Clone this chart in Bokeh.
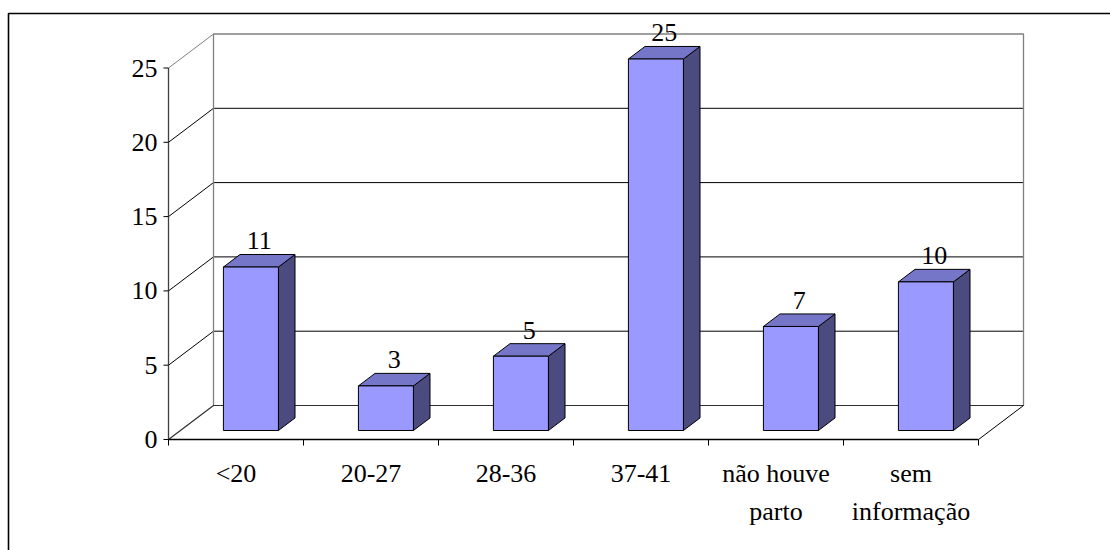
from bokeh.plotting import figure
from bokeh.models import Range1d
from bokeh.core.properties import value
from bokeh.embed import file_html
from bokeh.resources import INLINE

# Data
categories = ["<20", "20-27", "28-36", "37-41", "não houve\nparto", "sem\ninformação"]
counts = [11, 3, 5, 25, 7, 10]
y_ticks = [0, 5, 10, 15, 20, 25]
y_tick_labels = ["0", "5", "10", "15", "20", "25"]

# Canvas and scale setup (pixels per data unit)
W, H = 1110, 550
ORIGIN_X, ORIGIN_Y = 168, 439
PX_X = 135.0
PX_Y = 14.86

def px_x(d):
    return d / PX_X

def px_y(d):
    return d / PX_Y

DX = px_x(45)      # depth offset of the back wall, horizontal
DY = px_y(34)      # depth offset of the back wall, vertical
N = len(categories)
YMAX = y_ticks[-1]

FONT = value("Liberation Serif")
FS = "26px"

p = figure(width=W, height=H, output_backend="svg", toolbar_location=None,
           x_range=Range1d(-px_x(ORIGIN_X), px_x(W - ORIGIN_X)),
           y_range=Range1d(-px_y(H - ORIGIN_Y), px_y(ORIGIN_Y)),
           x_axis_location=None, y_axis_location=None, min_border=0)
p.outline_line_color = None
p.background_fill_color = "white"
p.border_fill_color = "white"
p.grid.visible = False

# Outer frame around the chart (left and top edges visible)
p.line([px_x(8 - ORIGIN_X), px_x(8 - ORIGIN_X), px_x(W + 20 - ORIGIN_X)],
       [-px_y(H + 20 - ORIGIN_Y), px_y(ORIGIN_Y - 13), px_y(ORIGIN_Y - 13)],
       line_color="black", line_width=1.6)

# Back wall gridlines and side wall diagonals
for g in y_ticks[1:-1]:
    p.line([DX, N + DX], [g + DY, g + DY], line_color="black", line_width=1)
    p.line([0, DX], [g, g + DY], line_color="black", line_width=1)

# Back wall edges
p.line([DX, DX, N + DX, N + DX], [DY, YMAX + DY, YMAX + DY, DY],
       line_color="#808080", line_width=1.3)
p.line([0, DX], [YMAX, YMAX + DY], line_color="#808080", line_width=1)

# Floor
p.line([0, DX, N + DX], [0, DY, DY], line_color="#303030", line_width=1.2)
p.line([N, N + DX], [0, DY], line_color="black", line_width=1)

# Bars (front, top, side faces)
F0 = 9 / 34          # depth fraction of the bar's front face
BD = 16.6 / 45       # bar depth as a fraction of the wall depth
A = px_x(43)         # gap from slot start to bar
BW = px_x(55)        # bar width
FRONT = "#9999ff"
TOP = "#7676c8"
SIDE = "#4b4b80"

for i, v in enumerate(counts):
    L = i + A + F0 * DX
    R = L + BW
    B = F0 * DY
    T = v + F0 * DY
    ox, oy = BD * DX, BD * DY
    p.patch([R, R, R + ox, R + ox], [B, T, T + oy, B + oy],
            fill_color=SIDE, line_color="black", line_width=1)
    p.patch([L, R, R + ox, L + ox], [T, T, T + oy, T + oy],
            fill_color=TOP, line_color="black", line_width=1)
    p.quad(left=L, right=R, bottom=B, top=T,
           fill_color=FRONT, line_color="black", line_width=1)
    p.text(x=[(L + R) / 2 + ox / 2], y=[T + oy + px_y(5)], text=[str(v)],
           text_font=FONT, text_font_size=FS, text_color="black",
           text_align="center", text_baseline="bottom")

# Front vertical axis with ticks
p.line([0, 0], [0, YMAX], line_color="#404040", line_width=1.3)
p.segment(x0=[-px_x(5)] * len(y_ticks), y0=y_ticks, x1=[0] * len(y_ticks), y1=y_ticks,
          line_color="black", line_width=1)
p.text(x=[-px_x(11)] * len(y_ticks), y=y_ticks, text=y_tick_labels,
       text_font=FONT, text_font_size=FS, text_color="black",
       text_align="right", text_baseline="middle")

# Front horizontal axis with category ticks
p.line([0, N], [0, 0], line_color="black", line_width=1.3)
p.segment(x0=list(range(N + 1)), y0=[0] * (N + 1), x1=list(range(N + 1)),
          y1=[-px_y(6)] * (N + 1), line_color="black", line_width=1)

xs, ys, labels = [], [], []
for i, c in enumerate(categories):
    for k, part in enumerate(c.split("\n")):
        xs.append(i + 0.5)
        ys.append(-px_y(34 + 38 * k))
        labels.append(part)
p.text(x=xs, y=ys, text=labels, text_font=FONT, text_font_size=FS,
       text_color="black", text_align="center", text_baseline="middle")

open("out.html", "w").write(file_html(p, INLINE))
